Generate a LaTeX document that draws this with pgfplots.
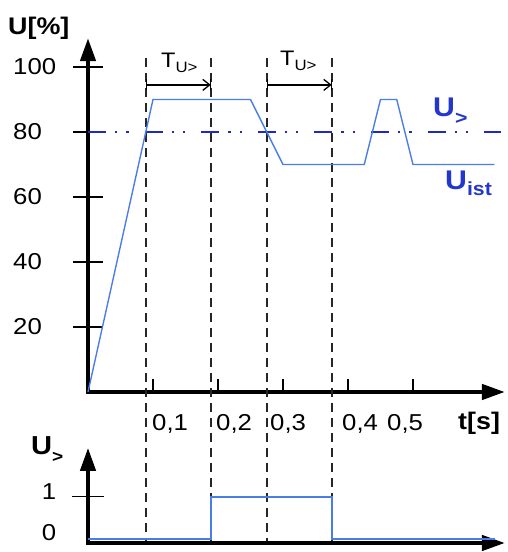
\documentclass[border=0pt]{standalone}
\usepackage{pgfplots}
\pgfplotsset{compat=1.18}
\usepackage{fontspec}
\setmainfont{Liberation Sans}[FakeStretch=1.12]
\usetikzlibrary{arrows.meta}

\definecolor{ucol}{RGB}{75,125,230}
\definecolor{thrcol}{RGB}{30,40,195}
\definecolor{labcol}{RGB}{35,55,205}
\newcommand\fs[1]{\fontsize{#1}{#1}\selectfont}

\pgfplotsset{
  timeax/.style={
    x=650pt, xmin=0, xmax=0.6415,
    axis lines=left, enlargelimits=false, clip=false,
    axis line style={line width=4.2pt, line cap=rect, -{Triangle[length=23pt,width=15pt]}},
    tick style={black, line width=1.3pt},
    xticklabels={}, yticklabels={},
  },
}
\tikzset{vdash/.style={black!85, line width=1.5pt, dash pattern=on 9pt off 6pt}}

\begin{document}
\begin{tikzpicture}[x=1pt,y=1pt]
\useasboundingbox (0,0) rectangle (507,552);

% upper chart: U in %
\begin{axis}[timeax, at={(88pt,160pt)}, anchor=south west,
    y=3.25pt, ymin=0, ymax=108.9,
    ytick={20,40,60,80,100}, ytick align=center, major tick length=30pt,
    xtick=\empty,
    extra x ticks={0.1,0.2,0.3,0.4,0.5}, extra x tick labels={},
    extra x tick style={major tick length=13pt, xtick align=inside}]

  % dashed time markers, running down into the lower chart
  \draw[vdash] (axis cs:0.0889,102.8) -- (axis cs:0.0889,-46.5);
  \draw[vdash] (axis cs:0.1889,102.8) -- (axis cs:0.1889,-46.5);
  \draw[vdash] (axis cs:0.275,102.8) -- (axis cs:0.275,-46.5);
  \draw[vdash] (axis cs:0.375,102.8) -- (axis cs:0.375,-46.5);

  % threshold U>
  \addplot[thrcol, line width=2.6pt,
    dash pattern=on 18pt off 9pt on 2.3pt off 9pt on 2.3pt off 16pt]
    coordinates {(0,80) (0.635,80)};

  % U ist
  \addplot[ucol, line width=1.4pt] coordinates {
    (0,0) (0.1,90) (0.25,90) (0.3,70) (0.425,70)
    (0.45,90) (0.475,90) (0.5,70) (0.625,70)
  };

  % delay arrows
  \draw[line width=1.3pt, {Bar[width=11pt]}-{Straight Barb[length=7pt,width=11pt]}]
    (axis cs:0.0889,94.5) -- (axis cs:0.1889,94.5);
  \draw[line width=1.3pt] (axis cs:0.1889,94.5) ++(0,-5.5pt) -- ++(0,11pt);
  \draw[line width=1.3pt, {Bar[width=11pt]}-{Straight Barb[length=7pt,width=11pt]}]
    (axis cs:0.275,94.5) -- (axis cs:0.375,94.5);
  \draw[line width=1.3pt] (axis cs:0.375,94.5) ++(0,-5.5pt) -- ++(0,11pt);
\end{axis}

% lower chart: U> output
\begin{axis}[timeax, at={(88pt,9pt)}, anchor=south west,
    y=42pt, ymin=-0.1, ymax=2.167,
    ytick={1}, ytick align=center, major tick length=32pt,
    xtick=\empty]
  \addplot[ucol, line width=1.5pt] coordinates {
    (0,0) (0.1889,0) (0.1889,1) (0.375,1) (0.375,0) (0.626,0)
  };
\end{axis}

% labels
\begin{scope}[every node/.style={inner sep=0pt}]
  \node[anchor=west] at (8,524) {\fs{24}\bfseries U[\%]};
  \foreach \v/\yy in {100/485, 80/420, 60/355, 40/290, 20/225}
    \node[anchor=west] at (13,\yy) {\fs{23}\v};
  \foreach \l/\xx in {{0,1}/152, {0,2}/216, {0,3}/270, {0,4}/342, {0,5}/387}
    \node[anchor=base west] at (\xx,121) {\fs{23}\l};
  \node[anchor=base west] at (458,122) {\fs{24}\bfseries t[s]};

  \node[anchor=base west] at (161,484) {\fs{21}T\raisebox{-5pt}{\fs{15}U>}};
  \node[anchor=base west] at (280,486) {\fs{21}T\raisebox{-5pt}{\fs{15}U>}};

  \node[anchor=base west, text=labcol] at (433,435)
    {\fs{27}\bfseries U\raisebox{-8pt}{\fs{19}>}};
  \node[anchor=base west, text=labcol] at (445,362)
    {\fs{27}\bfseries U\raisebox{-6pt}{\fs{19}ist}};

  \node[anchor=base west] at (31,97) {\fs{26}\bfseries U\raisebox{-8pt}{\fs{17}>}};
  \node at (49,60) {\fs{23}1};
  \node at (49,19) {\fs{23}0};
\end{scope}
\end{tikzpicture}
\end{document}
